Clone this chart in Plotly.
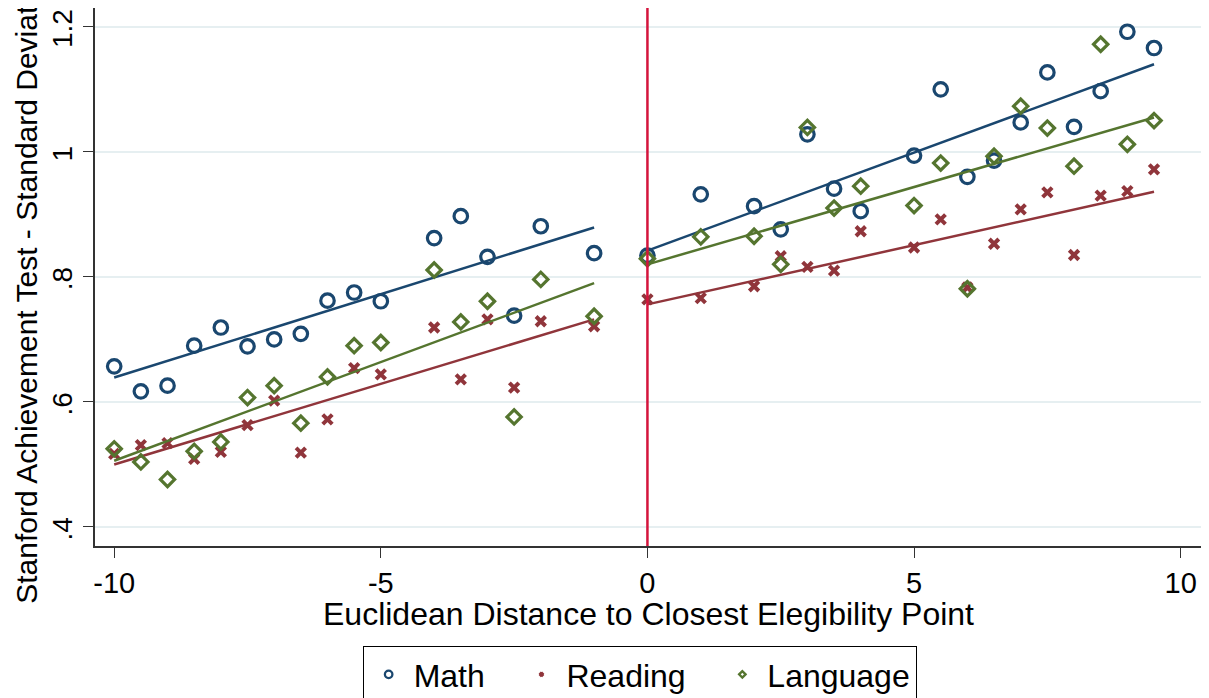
import plotly.graph_objects as go

# ── Data ─────────────────────────────────────────────────────────────────────

X_LEFT = [-10, -9.5, -9, -8.5, -8, -7.5, -7, -6.5, -6, -5.5, -5, -4, -3.5, -3, -2.5, -2, -1]
X_RIGHT = [0, 1, 2, 2.5, 3, 3.5, 4, 5, 5.5, 6, 6.5, 7, 7.5, 8, 8.5, 9, 9.5]

MATH_LEFT = [0.657, 0.617, 0.626, 0.690, 0.719, 0.689, 0.700, 0.709, 0.762, 0.775,
             0.761, 0.862, 0.897, 0.832, 0.738, 0.881, 0.838]
MATH_RIGHT = [0.834, 0.932, 0.913, 0.876, 1.028, 0.941, 0.905, 0.994, 1.100, 0.960,
              0.986, 1.047, 1.127, 1.040, 1.097, 1.192, 1.166]

READING_LEFT = [0.517, 0.531, 0.534, 0.509, 0.520, 0.563, 0.602, 0.519, 0.572, 0.654,
                0.644, 0.719, 0.636, 0.732, 0.623, 0.729, 0.721]
READING_RIGHT = [0.764, 0.766, 0.785, 0.833, 0.816, 0.810, 0.873, 0.847, 0.892, 0.783,
                 0.853, 0.908, 0.935, 0.835, 0.930, 0.937, 0.972]

LANGUAGE_LEFT = [0.525, 0.504, 0.476, 0.521, 0.536, 0.607, 0.626, 0.566, 0.640, 0.690,
                 0.695, 0.811, 0.728, 0.761, 0.576, 0.796, 0.737]
LANGUAGE_RIGHT = [0.829, 0.864, 0.865, 0.820, 1.039, 0.910, 0.945, 0.914, 0.982, 0.781,
                  0.993, 1.073, 1.038, 0.977, 1.172, 1.012, 1.050]

# linear fit end points on each side of the cutoff
FIT_X_LEFT = [-10, -1]
FIT_X_RIGHT = [0, 9.5]
MATH_FIT_LEFT = [0.639, 0.879]
MATH_FIT_RIGHT = [0.842, 1.140]
READING_FIT_LEFT = [0.500, 0.732]
READING_FIT_RIGHT = [0.756, 0.936]
LANGUAGE_FIT_LEFT = [0.506, 0.790]
LANGUAGE_FIT_RIGHT = [0.820, 1.055]

Y_TICKS = [0.4, 0.6, 0.8, 1.0, 1.2]
Y_TICK_TEXT = [".4", ".6", ".8", "1", "1.2"]
X_TICKS = [-10, -5, 0, 5, 10]
X_TICK_TEXT = ["-10", "-5", "0", "5", "10"]

X_TITLE = "Euclidean Distance to Closest Elegibility Point"
Y_TITLE = "Stanford Achievement Test - Standard Deviations"

# ── Styles ───────────────────────────────────────────────────────────────────

NAVY = "#1a476f"
MAROON = "#90353b"
GREEN = "#55752f"
CUTOFF_RED = "#d4143c"
GRID = "#e6eff1"
AXIS = "#333"
FONT = "Liberation Sans, Arial, sans-serif"

# page body adds an 8px offset, so the figure is sized to fit inside the window
FIG_W, FIG_H = 1201, 690

SERIES = [
    ("Math", NAVY, "circle-open", 13.5, 3.2,
     MATH_LEFT, MATH_RIGHT, MATH_FIT_LEFT, MATH_FIT_RIGHT),
    ("Reading", MAROON, "x-thin-open", 9.5, 4,
     READING_LEFT, READING_RIGHT, READING_FIT_LEFT, READING_FIT_RIGHT),
    ("Language", GREEN, "diamond-open", 11, 3.2,
     LANGUAGE_LEFT, LANGUAGE_RIGHT, LANGUAGE_FIT_LEFT, LANGUAGE_FIT_RIGHT),
]
# padded legend labels to widen the gaps between entries
LEGEND_NAMES = ["Math&nbsp;&nbsp;&nbsp;", "Reading&nbsp;&nbsp;&nbsp;", "Language"]

fig = go.Figure()

for name, color, symbol, size, lw, left, right, fit_l, fit_r in SERIES:
    fig.add_trace(go.Scatter(
        x=X_LEFT + X_RIGHT, y=left + right, mode="markers", name=name, showlegend=False,
        marker=dict(symbol=symbol, size=size, color=color, line=dict(width=lw, color=color)),
    ))
    for fx, fy in ((FIT_X_LEFT, fit_l), (FIT_X_RIGHT, fit_r)):
        fig.add_trace(go.Scatter(x=fx, y=fy, mode="lines", showlegend=False,
                                 line=dict(color=color, width=2.5), hoverinfo="skip"))

# small legend-only markers
for (name, color, symbol, size, lw, *_), label in zip(SERIES, LEGEND_NAMES):
    fig.add_trace(go.Scatter(
        x=[None], y=[None], mode="markers", name=label,
        marker=dict(symbol=symbol, size=size - 6, color=color,
                    line=dict(width=lw - 0.9, color=color)),
    ))

fig.add_shape(type="line", xref="x", yref="paper", x0=0, x1=0, y0=0, y1=1,
              line=dict(color=CUTOFF_RED, width=2.5))

# axis titles as annotations so they sit where the reference has them
fig.add_annotation(text=X_TITLE, xref="paper", yref="paper", x=0.5, y=-0.126,
                   xanchor="center", yanchor="middle", showarrow=False,
                   font=dict(size=32))
fig.add_annotation(text=Y_TITLE, xref="paper", yref="paper", x=-0.0625, y=0.5,
                   xanchor="center", yanchor="middle", textangle=-90, showarrow=False,
                   font=dict(size=30))

fig.update_layout(
    width=FIG_W,
    height=FIG_H,
    margin=dict(l=87, r=7, t=0, b=152, autoexpand=False),
    paper_bgcolor="white",
    plot_bgcolor="white",
    font=dict(family=FONT, color="black", size=28),
    legend=dict(
        orientation="h",
        x=0.492,
        xanchor="center",
        y=-0.186,
        yanchor="top",
        bordercolor="black",
        borderwidth=1,
        bgcolor="white",
        font=dict(size=32),
        itemwidth=40,
    ),
    xaxis=dict(
        range=[-10.36, 10.40],
        tickvals=X_TICKS,
        ticktext=X_TICK_TEXT,
        automargin=False,
        showgrid=False,
        zeroline=False,
        showline=True,
        linecolor=AXIS,
        linewidth=1.5,
        ticks="outside",
        ticklen=10,
        tickcolor=AXIS,
        tickfont=dict(size=29),
        ticklabeloverflow="allow",
    ),
    yaxis=dict(
        range=[0.3696, 1.230],
        tickvals=Y_TICKS,
        ticktext=Y_TICK_TEXT,
        tickangle=-90,
        automargin=False,
        showgrid=True,
        gridcolor=GRID,
        gridwidth=2,
        zeroline=False,
        showline=True,
        linecolor=AXIS,
        linewidth=1.5,
        ticks="outside",
        ticklen=10,
        tickcolor=AXIS,
        tickfont=dict(size=28),
        ticklabelshift=6,
        ticklabeloverflow="allow",
    ),
)

fig.write_html("out.html")
